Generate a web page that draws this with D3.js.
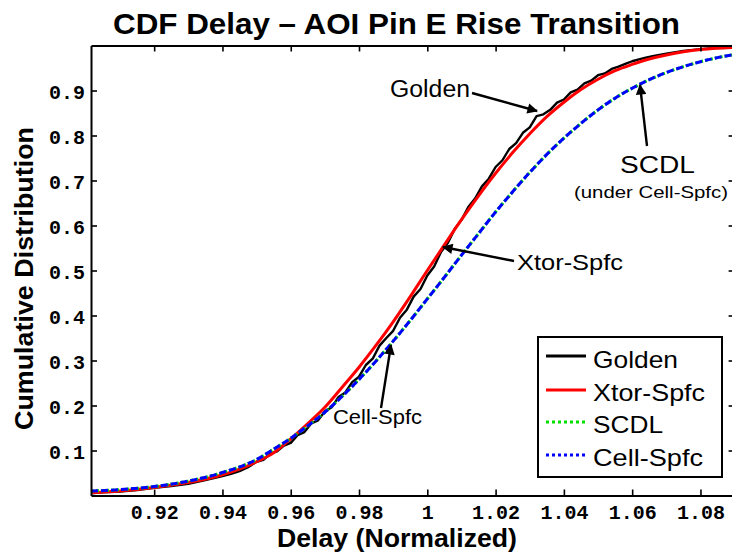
<!DOCTYPE html>
<html>
<head>
<meta charset="utf-8">
<script src="https://cdn.jsdelivr.net/npm/d3@7/dist/d3.min.js"></script>
<style>
  body { margin: 0; background: #fff; }
  svg { display: block; }
</style>
</head>
<body>
<svg id="chart" width="732" height="557"></svg>
<script>
// Shared delay grid for the smooth model curves
const delayGrid = [0.9015, 0.91, 0.92, 0.93, 0.94, 0.95, 0.955, 0.96, 0.965, 0.97, 0.975, 0.98,
  0.985, 0.99, 0.995, 1.0, 1.005, 1.01, 1.015, 1.02, 1.025, 1.03, 1.035, 1.04, 1.045, 1.05,
  1.055, 1.06, 1.065, 1.07, 1.075, 1.08, 1.085, 1.09];

const xtorCdf = [0.006, 0.010, 0.018, 0.029, 0.046, 0.075, 0.095, 0.126, 0.160, 0.196, 0.240, 0.285,
  0.334, 0.386, 0.442, 0.500, 0.557, 0.613, 0.666, 0.716, 0.762, 0.804, 0.842, 0.874, 0.902, 0.925,
  0.944, 0.958, 0.970, 0.979, 0.986, 0.991, 0.994, 0.996];

const scdlCdf = [0.010, 0.013, 0.020, 0.032, 0.051, 0.080, 0.103, 0.127, 0.155, 0.185, 0.220, 0.258,
  0.299, 0.343, 0.389, 0.437, 0.485, 0.534, 0.582, 0.630, 0.675, 0.718, 0.758, 0.794, 0.827, 0.857,
  0.883, 0.905, 0.924, 0.940, 0.953, 0.964, 0.973, 0.980];

const cellCdf = [0.010, 0.013, 0.020, 0.032, 0.051, 0.080, 0.103, 0.127, 0.155, 0.185, 0.220, 0.258,
  0.299, 0.343, 0.389, 0.437, 0.485, 0.534, 0.582, 0.630, 0.675, 0.718, 0.758, 0.794, 0.827, 0.857,
  0.883, 0.905, 0.924, 0.940, 0.953, 0.964, 0.973, 0.980];

// Empirical (Monte Carlo) reference curve
const goldenDelay = [0.9015, 0.905, 0.91, 0.915, 0.92, 0.925, 0.93, 0.935, 0.94, 0.9425, 0.945, 0.9475,
  0.950, 0.952, 0.954, 0.956, 0.958, 0.960, 0.962, 0.964, 0.966, 0.968,
  0.970, 0.972, 0.974, 0.976, 0.978, 0.980, 0.982, 0.984, 0.986, 0.988,
  0.990, 0.992, 0.994, 0.996, 0.998, 1.000, 1.002, 1.004, 1.006, 1.008,
  1.010, 1.012, 1.014, 1.016, 1.018, 1.020, 1.022, 1.024, 1.026, 1.028,
  1.030, 1.032, 1.034, 1.036, 1.038, 1.040, 1.042, 1.044, 1.046, 1.048,
  1.050, 1.052, 1.054, 1.056, 1.058, 1.060, 1.062, 1.064, 1.066, 1.068,
  1.070, 1.075, 1.08, 1.085, 1.09];
const goldenCdf = [0.005, 0.007, 0.009, 0.012, 0.017, 0.021, 0.026, 0.034, 0.043, 0.048, 0.054, 0.063,
  0.075, 0.079, 0.093, 0.098, 0.111, 0.117, 0.134, 0.141, 0.160, 0.167,
  0.187, 0.196, 0.219, 0.229, 0.252, 0.264, 0.290, 0.304, 0.333, 0.350,
  0.366, 0.395, 0.413, 0.442, 0.459, 0.489, 0.509, 0.541, 0.561, 0.592,
  0.612, 0.641, 0.660, 0.687, 0.704, 0.730, 0.745, 0.770, 0.783, 0.806,
  0.818, 0.843, 0.847, 0.857, 0.873, 0.880, 0.896, 0.902, 0.916, 0.922,
  0.934, 0.938, 0.948, 0.953, 0.959, 0.965, 0.969, 0.973, 0.976, 0.979,
  0.982, 0.988, 0.992, 0.995, 0.997];

const xTicks = [0.92, 0.94, 0.96, 0.98, 1.0, 1.02, 1.04, 1.06, 1.08];
const xTickLabels = ["0.92", "0.94", "0.96", "0.98", "1", "1.02", "1.04", "1.06", "1.08"];
const yTicks = [0.1, 0.2, 0.3, 0.4, 0.5, 0.6, 0.7, 0.8, 0.9];
const yTickLabels = ["0.1", "0.2", "0.3", "0.4", "0.5", "0.6", "0.7", "0.8", "0.9"];

const seriesNames = ["Golden", "Xtor-Spfc", "SCDL", "Cell-Spfc"];

const svg = d3.select("#chart");
const W = 732, H = 557;
svg.append("rect").attr("width", W).attr("height", H).attr("fill", "#fff");

const plotLeft = 91, plotRight = 734.6, plotTop = 45.5, plotBottom = 495.5;
const x = d3.scaleLinear().domain([0.9015, 1.09]).range([plotLeft, plotRight]);
const y = d3.scaleLinear().domain([0, 1]).range([plotBottom, plotTop]);

const sans = "'Liberation Sans', Arial, Helvetica, sans-serif";
const mono = "'Liberation Mono', 'Courier New', monospace";

const defs = svg.append("defs");
// clip for the curves
defs.append("clipPath").attr("id", "plotClip")
  .append("rect").attr("x", plotLeft).attr("y", plotTop)
  .attr("width", plotRight - plotLeft).attr("height", plotBottom - plotTop);

// arrow head marker
defs.append("marker")
  .attr("id", "arrowHead").attr("viewBox", "0 0 10 10")
  .attr("refX", 9).attr("refY", 5)
  .attr("markerWidth", 5.4).attr("markerHeight", 4.4)
  .attr("markerUnits", "strokeWidth").attr("orient", "auto")
  .append("path").attr("d", "M0,0 L10,5 L0,10 Z").attr("fill", "#000");

// curves
const lineLinear = d3.line().x(d => x(d[0])).y(d => y(d[1]));
const lineSmooth = d3.line().x(d => x(d[0])).y(d => y(d[1])).curve(d3.curveMonotoneX);
const curves = svg.append("g").attr("clip-path", "url(#plotClip)");

curves.append("path")
  .datum(d3.zip(goldenDelay, goldenCdf))
  .attr("d", lineLinear).attr("fill", "none").attr("stroke", "#000").attr("stroke-width", 2.4)
  .attr("stroke-linejoin", "round");

curves.append("path")
  .datum(d3.zip(delayGrid, xtorCdf))
  .attr("d", lineSmooth).attr("fill", "none").attr("stroke", "#ff0000").attr("stroke-width", 3);

curves.append("path")
  .datum(d3.zip(delayGrid, scdlCdf))
  .attr("d", lineSmooth).attr("fill", "none").attr("stroke", "#00e000").attr("stroke-width", 3)
  .attr("stroke-dasharray", "3,2");

curves.append("path")
  .datum(d3.zip(delayGrid, cellCdf))
  .attr("d", lineSmooth).attr("fill", "none").attr("stroke", "#0000ff").attr("stroke-width", 3)
  .attr("stroke-dasharray", "7,3");

// axes (ticks pointing inward on all four sides)
const axisG = svg.append("g");
const bottomAxis = d3.axisBottom(x).tickValues(xTicks).tickSize(-6).tickSizeOuter(0)
  .tickFormat((d, i) => xTickLabels[i]);
const topAxis = d3.axisTop(x).tickValues(xTicks).tickSize(-6).tickSizeOuter(0).tickFormat("");
const leftAxis = d3.axisLeft(y).tickValues(yTicks).tickSize(-6).tickSizeOuter(0)
  .tickFormat((d, i) => yTickLabels[i]);
const rightAxis = d3.axisRight(y).tickValues(yTicks).tickSize(-6).tickSizeOuter(0).tickFormat("");

const gb = axisG.append("g").attr("transform", `translate(0,${plotBottom})`).call(bottomAxis);
const gt = axisG.append("g").attr("transform", `translate(0,${plotTop})`).call(topAxis);
const gl = axisG.append("g").attr("transform", `translate(${plotLeft},0)`).call(leftAxis);
const gr = axisG.append("g").attr("transform", `translate(${plotRight},0)`).call(rightAxis);

[gb, gt, gl, gr].forEach(g => {
  g.selectAll(".domain").attr("stroke", "#000").attr("stroke-width", 2);
  g.selectAll(".tick line").attr("stroke", "#000").attr("stroke-width", 1.6);
});

gb.selectAll(".tick text")
  .attr("y", 23.5).attr("dy", null)
  .attr("font-family", mono).attr("font-weight", "bold").attr("font-size", 20).attr("fill", "#000");
gl.selectAll(".tick text")
  .attr("x", -6).attr("dy", "0.42em")
  .attr("font-family", mono).attr("font-weight", "bold").attr("font-size", 20).attr("fill", "#000");

// titles
svg.append("text")
  .attr("x", 113).attr("y", 34)
  .attr("font-family", sans).attr("font-weight", "bold").attr("font-size", 30)
  .attr("textLength", 567).attr("lengthAdjust", "spacingAndGlyphs")
  .text("CDF Delay \u2013 AOI Pin E Rise Transition");

svg.append("text")
  .attr("x", 277).attr("y", 547)
  .attr("font-family", sans).attr("font-weight", "bold").attr("font-size", 25)
  .attr("textLength", 240).attr("lengthAdjust", "spacingAndGlyphs")
  .text("Delay (Normalized)");

svg.append("text")
  .attr("transform", "translate(33,430) rotate(-90)")
  .attr("font-family", sans).attr("font-weight", "bold").attr("font-size", 26)
  .attr("textLength", 303).attr("lengthAdjust", "spacingAndGlyphs")
  .text("Cumulative Distribution");

// legend
const legend = svg.append("g");
legend.append("rect").attr("x", 538).attr("y", 337).attr("width", 184).attr("height", 140)
  .attr("fill", "#fff").attr("stroke", "#000").attr("stroke-width", 2);
const legendStyles = [
  { color: "#000", dash: null },
  { color: "#ff0000", dash: null },
  { color: "#00e000", dash: "3,3" },
  { color: "#0000ff", dash: "3,3" }
];
const legendLineY = [356, 390, 422, 455];
const legendTextY = [368, 401, 433, 466];
const legendTextW = [85, 112, 70, 110];
seriesNames.forEach((name, i) => {
  legend.append("line").attr("x1", 546).attr("x2", 586)
    .attr("y1", legendLineY[i]).attr("y2", legendLineY[i])
    .attr("stroke", legendStyles[i].color).attr("stroke-width", 3)
    .attr("stroke-dasharray", legendStyles[i].dash);
  legend.append("text").attr("x", 593).attr("y", legendTextY[i])
    .attr("font-family", sans).attr("font-size", 24)
    .attr("textLength", legendTextW[i]).attr("lengthAdjust", "spacingAndGlyphs")
    .text(name);
});

// callouts
const notes = svg.append("g");
function callout(label, tx, ty, w, size, x1, y1, x2, y2) {
  notes.append("text").attr("x", tx).attr("y", ty)
    .attr("font-family", sans).attr("font-size", size)
    .attr("textLength", w).attr("lengthAdjust", "spacingAndGlyphs")
    .text(label);
  if (x1 !== null) {
    notes.append("line").attr("x1", x1).attr("y1", y1).attr("x2", x2).attr("y2", y2)
      .attr("stroke", "#000").attr("stroke-width", 2.4).attr("marker-end", "url(#arrowHead)");
  }
}
callout("Golden", 390, 97, 80, 23, 472, 93, 537, 111);
callout("SCDL", 620, 173, 75, 23, 647, 146, 640, 85);
callout("(under Cell-Spfc)", 574, 198, 154, 17, null);
callout("Xtor-Spfc", 517, 270, 106, 22, 514, 261, 443, 247);
callout("Cell-Spfc", 333, 424, 89, 20, 381, 408, 391, 345);
</script>
</body>
</html>
